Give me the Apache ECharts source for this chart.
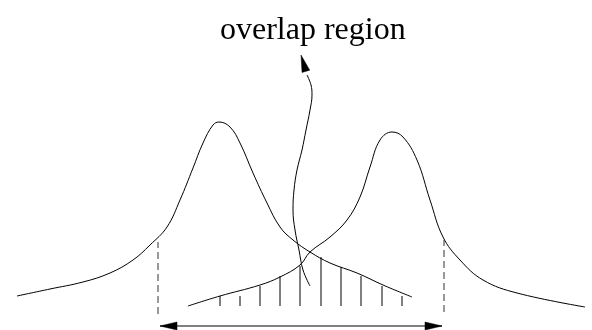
<!DOCTYPE html>
<html>
<head>
<meta charset="utf-8">
<script src="https://cdn.jsdelivr.net/npm/echarts@6/dist/echarts.min.js"></script>
<style>
  html, body { margin: 0; padding: 0; background: #fff; }
  #chart { width: 592px; height: 330px; }
</style>
</head>
<body>
<div id="chart"></div>
<script>
// Left peak profile: [position, height]
const leftCurve = [
  [17, 34], [50, 41], [83, 48], [110, 57], [133, 70], [150, 85], [167, 103],
  [180, 130], [193, 162], [203, 187], [213, 205], [219, 208], [230, 203],
  [240, 187], [253, 157], [267, 127], [280, 103], [293, 90], [310, 78],
  [330, 67], [357, 57], [383, 45], [412, 33]
];

// Right peak profile: [position, height]
const rightCurve = [
  [188, 24], [220, 34], [260, 45], [280, 53], [300, 65], [310, 78], [330, 93],
  [347, 110], [360, 133], [370, 163], [380, 190], [392, 198], [403, 193],
  [417, 170], [430, 130], [443, 93], [460, 70], [483, 50], [517, 37], [585, 23]
];

// Hatching of the shared area under both peaks
const hatchBase = 24;
const hatchX   = [220, 240, 260, 280, 300, 321, 341, 361, 382, 402];
const hatchTop = [34, 34, 44, 54, 64, 73, 63, 54, 44, 34];

// Dashed cut-off markers: [position, bottom, top]
const cutoffs = [[158, 16, 88], [444, 18, 90]];

// Curved pointer from the shared area up to the caption
const pointerPath = [
  [310, 44], [303, 60], [299, 80], [295, 100], [293, 120], [294, 140],
  [297, 160], [302, 180], [306, 200], [310, 220], [312, 235], [311, 245], [307, 255]
];

// Arrows: [x1, y1, x2, y2, headAtStart, headAtEnd, drawShaft]
const arrows = [
  [160, 4, 442, 4, 1, 1, 1],
  [307, 255, 301, 275, 0, 1, 0]
];

const caption = 'overlap region';

const INK = '#000';

function arrowHead(tip, base, len, width) {
  const dx = tip[0] - base[0];
  const dy = tip[1] - base[1];
  const d = Math.sqrt(dx * dx + dy * dy) || 1;
  const ux = dx / d, uy = dy / d;
  const bx = tip[0] - ux * len, by = tip[1] - uy * len;
  const nx = -uy * width / 2, ny = ux * width / 2;
  return {
    type: 'polygon',
    shape: { points: [[tip[0], tip[1]], [bx + nx, by + ny], [bx - nx, by - ny]] },
    style: { fill: INK, stroke: INK, lineWidth: 0.5 }
  };
}

const chart = echarts.init(document.getElementById('chart'), null, { renderer: 'canvas' });

chart.setOption({
  animation: false,
  backgroundColor: '#fff',
  graphic: [{
    type: 'text',
    x: 220,
    y: 15,
    silent: true,
    style: {
      text: caption,
      font: 'normal 32px "Liberation Serif", serif',
      fill: INK,
      align: 'left',
      verticalAlign: 'top'
    }
  }],
  grid: { left: 0, right: 0, top: 0, bottom: 0 },
  xAxis: { type: 'value', min: 0, max: 592, show: false },
  yAxis: { type: 'value', min: 0, max: 330, show: false },
  series: [
    {
      type: 'line', data: leftCurve, smooth: 0.4, symbol: 'none', silent: true,
      lineStyle: { color: INK, width: 1 }
    },
    {
      type: 'line', data: rightCurve, smooth: 0.4, symbol: 'none', silent: true,
      lineStyle: { color: INK, width: 1 }
    },
    {
      type: 'line', data: pointerPath, smooth: 0.4, symbol: 'none', silent: true,
      lineStyle: { color: INK, width: 1 }
    },
    {
      type: 'custom', silent: true,
      data: hatchX.map((x, i) => [x, hatchTop[i]]),
      renderItem: function (params, api) {
        const p0 = api.coord([api.value(0), hatchBase]);
        const p1 = api.coord([api.value(0), api.value(1)]);
        return {
          type: 'line',
          shape: { x1: p0[0], y1: p0[1], x2: p1[0], y2: p1[1] },
          style: { stroke: INK, lineWidth: 1 }
        };
      }
    },
    {
      type: 'custom', silent: true,
      data: cutoffs,
      renderItem: function (params, api) {
        const p0 = api.coord([api.value(0), api.value(1)]);
        const p1 = api.coord([api.value(0), api.value(2)]);
        return {
          type: 'line',
          shape: { x1: p0[0], y1: p0[1], x2: p1[0], y2: p1[1] },
          style: { stroke: '#333', lineWidth: 1, lineDash: [7, 4] }
        };
      }
    },
    {
      type: 'custom', silent: true,
      data: arrows,
      renderItem: function (params, api) {
        const a = api.coord([api.value(0), api.value(1)]);
        const b = api.coord([api.value(2), api.value(3)]);
        const children = [];
        if (api.value(6)) {
          children.push({
            type: 'line',
            shape: { x1: a[0], y1: a[1], x2: b[0], y2: b[1] },
            style: { stroke: INK, lineWidth: 1 }
          });
        }
        if (api.value(4)) children.push(arrowHead(a, b, 17, 8));
        if (api.value(5)) children.push(arrowHead(b, a, 17, 8));
        return { type: 'group', children: children };
      }
    }
  ]
});
</script>
</body>
</html>
